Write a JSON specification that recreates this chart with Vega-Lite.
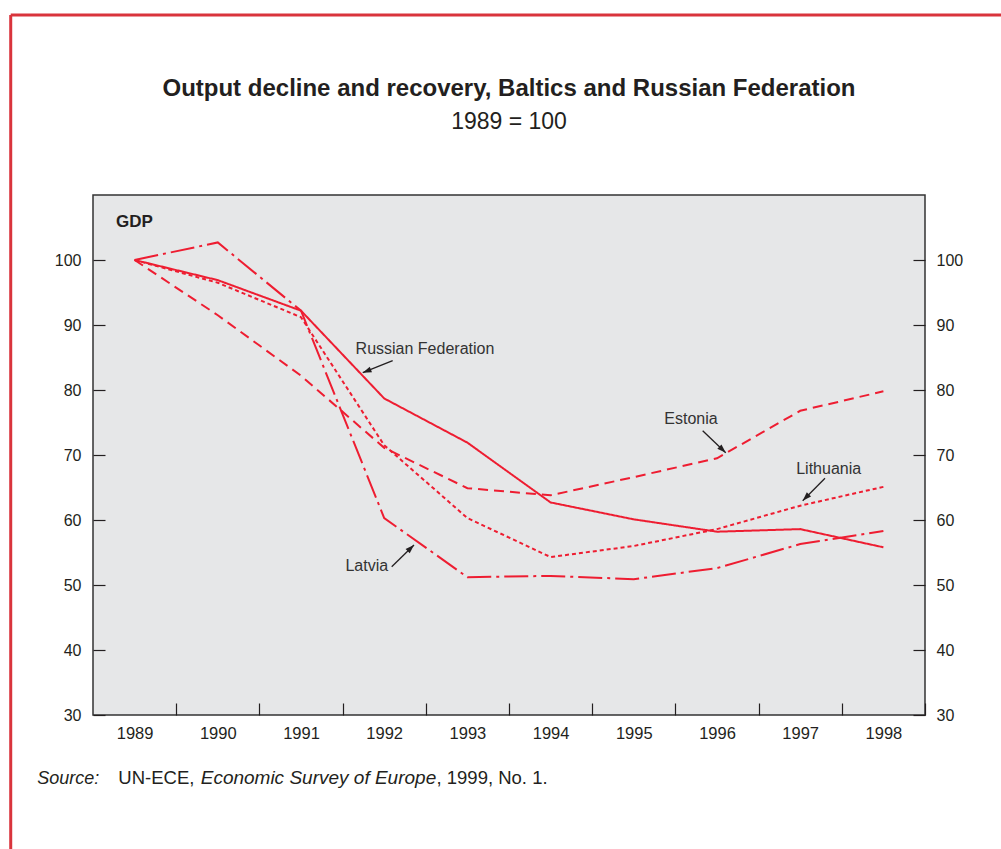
{
  "$schema": "https://vega.github.io/schema/vega-lite/v6.json",
  "width": 832,
  "height": 520,
  "autosize": {"type": "none"},
  "padding": {"left": 93, "top": 195, "right": 76, "bottom": 134},
  "background": "white",
  "title": {
    "text": "Output decline and recovery, Baltics and Russian Federation",
    "subtitle": "1989 = 100",
    "anchor": "middle",
    "frame": "group",
    "font": "Liberation Sans",
    "fontSize": 24,
    "fontWeight": "bold",
    "color": "#231f20",
    "subtitleFont": "Liberation Sans",
    "subtitleFontSize": 23,
    "subtitleColor": "#231f20",
    "subtitlePadding": 10,
    "offset": -120.75
  },
  "config": {
    "view": {"fill": "#e6e7e8", "stroke": "#333333", "strokeWidth": 1.5},
    "font": "Liberation Sans",
    "axis": {
      "labelFont": "Liberation Sans",
      "labelFontSize": 16,
      "labelColor": "#231f20",
      "tickColor": "#231f20",
      "tickWidth": 1.2,
      "tickSize": -12,
      "domain": false,
      "grid": false
    }
  },
  "datasets": {
    "gdp": [
      {"country": "Russian Federation", "year": 1989, "gdp": 100},
      {"country": "Russian Federation", "year": 1990, "gdp": 96.9},
      {"country": "Russian Federation", "year": 1991, "gdp": 92.2},
      {"country": "Russian Federation", "year": 1992, "gdp": 78.7},
      {"country": "Russian Federation", "year": 1993, "gdp": 71.9},
      {"country": "Russian Federation", "year": 1994, "gdp": 62.7},
      {"country": "Russian Federation", "year": 1995, "gdp": 60.1},
      {"country": "Russian Federation", "year": 1996, "gdp": 58.2},
      {"country": "Russian Federation", "year": 1997, "gdp": 58.6},
      {"country": "Russian Federation", "year": 1998, "gdp": 55.8},
      {"country": "Estonia", "year": 1989, "gdp": 100},
      {"country": "Estonia", "year": 1990, "gdp": 91.5},
      {"country": "Estonia", "year": 1991, "gdp": 82.2},
      {"country": "Estonia", "year": 1992, "gdp": 71.1},
      {"country": "Estonia", "year": 1993, "gdp": 64.9},
      {"country": "Estonia", "year": 1994, "gdp": 63.8},
      {"country": "Estonia", "year": 1995, "gdp": 66.6},
      {"country": "Estonia", "year": 1996, "gdp": 69.5},
      {"country": "Estonia", "year": 1997, "gdp": 76.8},
      {"country": "Estonia", "year": 1998, "gdp": 79.8},
      {"country": "Latvia", "year": 1989, "gdp": 100},
      {"country": "Latvia", "year": 1990, "gdp": 102.7},
      {"country": "Latvia", "year": 1991, "gdp": 92.2},
      {"country": "Latvia", "year": 1992, "gdp": 60.3},
      {"country": "Latvia", "year": 1993, "gdp": 51.2},
      {"country": "Latvia", "year": 1994, "gdp": 51.4},
      {"country": "Latvia", "year": 1995, "gdp": 50.9},
      {"country": "Latvia", "year": 1996, "gdp": 52.6},
      {"country": "Latvia", "year": 1997, "gdp": 56.3},
      {"country": "Latvia", "year": 1998, "gdp": 58.3},
      {"country": "Lithuania", "year": 1989, "gdp": 100},
      {"country": "Lithuania", "year": 1990, "gdp": 96.5},
      {"country": "Lithuania", "year": 1991, "gdp": 91.2},
      {"country": "Lithuania", "year": 1992, "gdp": 71.5},
      {"country": "Lithuania", "year": 1993, "gdp": 60.3},
      {"country": "Lithuania", "year": 1994, "gdp": 54.3},
      {"country": "Lithuania", "year": 1995, "gdp": 56.0},
      {"country": "Lithuania", "year": 1996, "gdp": 58.6},
      {"country": "Lithuania", "year": 1997, "gdp": 62.2},
      {"country": "Lithuania", "year": 1998, "gdp": 65.1}
    ],
    "labels": [
      {"label": "Russian Federation", "x": 1992.49, "y": 85.54},
      {"label": "Estonia", "x": 1995.687, "y": 74.77},
      {"label": "Lithuania", "x": 1997.342, "y": 67.03},
      {"label": "Latvia", "x": 1991.791, "y": 52.2}
    ],
    "arrows": [
      {"label": "Russian Federation", "x": 1992.102, "y": 84.51, "x2": 1991.742, "y2": 82.66},
      {"label": "Estonia", "x": 1995.828, "y": 73.74, "x2": 1996.105, "y2": 70.35},
      {"label": "Lithuania", "x": 1997.298, "y": 66.42, "x2": 1997.03, "y2": 62.97},
      {"label": "Latvia", "x": 1992.09, "y": 52.82, "x2": 1992.358, "y2": 56.15}
    ],
    "gdplabel": [
      {"label": "GDP", "x": 1988.776, "y": 105.08}
    ],
    "source_italic": [
      {"t": "Source:", "x": 1987.8305, "y": 19.38},
      {"t": "Economic Survey of Europe", "x": 1989.7945, "y": 19.38}
    ],
    "source_normal": [
      {"t": "UN-ECE,", "x": 1988.8041, "y": 19.38},
      {"t": ", 1999, No. 1.", "x": 1992.6286, "y": 19.38}
    ],
    "frame": [
      {"x": 1987.511, "x2": 2000, "y": 137.69, "y2": 137.69},
      {"x": 1987.511, "x2": 1987.511, "y": 137.69, "y2": 0}
    ]
  },
  "resolve": {"axis": {"y": "independent"}},
  "layer": [
    {
      "data": {"name": "gdp"},
      "mark": {"type": "line", "color": "#ee1d31", "strokeWidth": 2},
      "encoding": {
        "x": {
          "field": "year", "type": "quantitative", "title": null,
          "scale": {"domain": [1988.5, 1998.5], "nice": false, "zero": false},
          "axis": {
            "orient": "bottom",
            "values": [1989, 1990, 1991, 1992, 1993, 1994, 1995, 1996, 1997, 1998],
            "format": "d",
            "tickOffset": 41.6,
            "labelOffset": -41.6,
            "labelPadding": 22,
            "labelFontSize": 16.5,
            "labelBaseline": "top",
            "labelFlush": false
          }
        },
        "y": {
          "field": "gdp", "type": "quantitative", "title": null,
          "scale": {"domain": [30, 110], "nice": false, "zero": false},
          "axis": {
            "orient": "left",
            "values": [30, 40, 50, 60, 70, 80, 90, 100],
            "labelPadding": 24,
            "labelFlush": false
          }
        },
        "strokeDash": {
          "field": "country", "type": "nominal", "legend": null,
          "scale": {
            "domain": ["Russian Federation", "Estonia", "Latvia", "Lithuania"],
            "range": [[1, 0], [10, 6], [24, 5, 3, 5], [4, 3]]
          }
        }
      }
    },
    {
      "data": {"name": "gdplabel"},
      "mark": {"type": "text", "font": "Liberation Sans", "fontSize": 17, "fontWeight": "bold", "color": "#231f20", "align": "left", "baseline": "alphabetic"},
      "encoding": {
        "x": {"field": "x", "type": "quantitative", "title": null, "scale": {"domain": [1988.5, 1998.5], "nice": false, "zero": false}},
        "y": {
          "field": "y", "type": "quantitative", "title": null,
          "scale": {"domain": [30, 110], "nice": false, "zero": false},
          "axis": {
            "orient": "right",
            "values": [30, 40, 50, 60, 70, 80, 90, 100],
            "labelPadding": 23,
            "labelFlush": false
          }
        },
        "text": {"field": "label"}
      }
    },
    {
      "data": {"name": "labels"},
      "mark": {"type": "text", "font": "Liberation Sans", "fontSize": 16, "color": "#333333", "align": "center", "baseline": "alphabetic"},
      "encoding": {
        "x": {"field": "x", "type": "quantitative", "title": null, "scale": {"domain": [1988.5, 1998.5], "nice": false, "zero": false}},
        "y": {"field": "y", "type": "quantitative", "title": null, "scale": {"domain": [30, 110], "nice": false, "zero": false}, "axis": null},
        "text": {"field": "label"}
      }
    },
    {
      "data": {"name": "arrows"},
      "mark": {"type": "rule", "color": "#231f20", "strokeWidth": 1.3},
      "encoding": {
        "x": {"field": "x", "type": "quantitative", "title": null, "scale": {"domain": [1988.5, 1998.5], "nice": false, "zero": false}},
        "x2": {"field": "x2"},
        "y": {"field": "y", "type": "quantitative", "title": null, "scale": {"domain": [30, 110], "nice": false, "zero": false}, "axis": null},
        "y2": {"field": "y2"}
      }
    },
    {
      "data": {"name": "arrows"},
      "transform": [{"filter": "datum.label === 'Russian Federation'"}],
      "mark": {"type": "point", "shape": "M0,0L0.75,2.2L-0.75,2.2Z", "size": 64, "filled": true, "color": "#231f20", "opacity": 1, "angle": 248},
      "encoding": {
        "x": {"field": "x2", "type": "quantitative", "title": null, "scale": {"domain": [1988.5, 1998.5], "nice": false, "zero": false}},
        "y": {"field": "y2", "type": "quantitative", "title": null, "scale": {"domain": [30, 110], "nice": false, "zero": false}, "axis": null}
      }
    },
    {
      "data": {"name": "arrows"},
      "transform": [{"filter": "datum.label === 'Estonia'"}],
      "mark": {"type": "point", "shape": "M0,0L0.75,2.2L-0.75,2.2Z", "size": 64, "filled": true, "color": "#231f20", "opacity": 1, "angle": 134},
      "encoding": {
        "x": {"field": "x2", "type": "quantitative", "title": null, "scale": {"domain": [1988.5, 1998.5], "nice": false, "zero": false}},
        "y": {"field": "y2", "type": "quantitative", "title": null, "scale": {"domain": [30, 110], "nice": false, "zero": false}, "axis": null}
      }
    },
    {
      "data": {"name": "arrows"},
      "transform": [{"filter": "datum.label === 'Lithuania'"}],
      "mark": {"type": "point", "shape": "M0,0L0.75,2.2L-0.75,2.2Z", "size": 64, "filled": true, "color": "#231f20", "opacity": 1, "angle": 225},
      "encoding": {
        "x": {"field": "x2", "type": "quantitative", "title": null, "scale": {"domain": [1988.5, 1998.5], "nice": false, "zero": false}},
        "y": {"field": "y2", "type": "quantitative", "title": null, "scale": {"domain": [30, 110], "nice": false, "zero": false}, "axis": null}
      }
    },
    {
      "data": {"name": "arrows"},
      "transform": [{"filter": "datum.label === 'Latvia'"}],
      "mark": {"type": "point", "shape": "M0,0L0.75,2.2L-0.75,2.2Z", "size": 64, "filled": true, "color": "#231f20", "opacity": 1, "angle": 46},
      "encoding": {
        "x": {"field": "x2", "type": "quantitative", "title": null, "scale": {"domain": [1988.5, 1998.5], "nice": false, "zero": false}},
        "y": {"field": "y2", "type": "quantitative", "title": null, "scale": {"domain": [30, 110], "nice": false, "zero": false}, "axis": null}
      }
    },
    {
      "data": {"name": "source_italic"},
      "transform": [{"filter": "datum.t === 'Source:'"}],
      "mark": {"type": "text", "font": "Liberation Sans", "fontSize": 18, "fontStyle": "italic", "color": "#231f20", "align": "left", "baseline": "alphabetic"},
      "encoding": {
        "x": {"field": "x", "type": "quantitative", "title": null, "scale": {"domain": [1988.5, 1998.5], "nice": false, "zero": false}},
        "y": {"field": "y", "type": "quantitative", "title": null, "scale": {"domain": [30, 110], "nice": false, "zero": false}, "axis": null},
        "text": {"field": "t"}
      }
    },
    {
      "data": {"name": "source_italic"},
      "transform": [{"filter": "datum.t !== 'Source:'"}],
      "mark": {"type": "text", "font": "Liberation Sans", "fontSize": 19, "fontStyle": "italic", "color": "#231f20", "align": "left", "baseline": "alphabetic"},
      "encoding": {
        "x": {"field": "x", "type": "quantitative", "title": null, "scale": {"domain": [1988.5, 1998.5], "nice": false, "zero": false}},
        "y": {"field": "y", "type": "quantitative", "title": null, "scale": {"domain": [30, 110], "nice": false, "zero": false}, "axis": null},
        "text": {"field": "t"}
      }
    },
    {
      "data": {"name": "source_normal"},
      "mark": {"type": "text", "font": "Liberation Sans", "fontSize": 18.5, "color": "#231f20", "align": "left", "baseline": "alphabetic"},
      "encoding": {
        "x": {"field": "x", "type": "quantitative", "title": null, "scale": {"domain": [1988.5, 1998.5], "nice": false, "zero": false}},
        "y": {"field": "y", "type": "quantitative", "title": null, "scale": {"domain": [30, 110], "nice": false, "zero": false}, "axis": null},
        "text": {"field": "t"}
      }
    },
    {
      "data": {"name": "frame"},
      "mark": {"type": "rule", "color": "#d9343c", "strokeWidth": 3},
      "encoding": {
        "x": {"field": "x", "type": "quantitative", "title": null, "scale": {"domain": [1988.5, 1998.5], "nice": false, "zero": false}},
        "x2": {"field": "x2"},
        "y": {"field": "y", "type": "quantitative", "title": null, "scale": {"domain": [30, 110], "nice": false, "zero": false}, "axis": null},
        "y2": {"field": "y2"}
      }
    }
  ]
}
